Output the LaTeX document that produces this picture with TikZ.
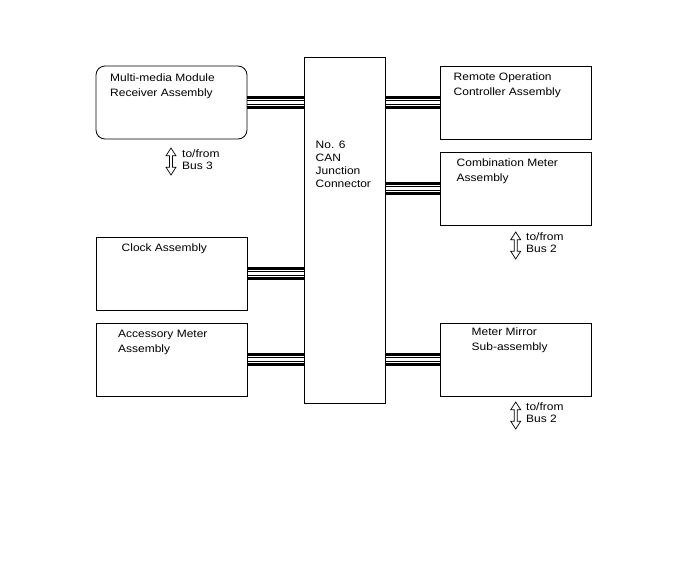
\documentclass[tikz,border=0pt]{standalone}
\usepackage{fontspec}
\setmainfont{Liberation Sans}[FakeStretch=1.12]
\usetikzlibrary{positioning, calc}

\tikzset{
  unit/.style={draw, line width=0.8pt, inner sep=0pt,
    minimum width=151pt, minimum height=73pt},
  unittext/.style={anchor=north west, inner sep=0pt, align=left,
    font=\fontsize{10.7}{14.8}\selectfont},
  jctext/.style={anchor=north west, inner sep=0pt, align=left,
    font=\fontsize{10.7}{13.2}\selectfont},
  bustext/.style={anchor=north west, inner sep=0pt, align=left,
    font=\fontsize{10.7}{11.8}\selectfont},
  busarrow/.pic={
    \draw[line width=0.7pt, line join=miter]
      (0,-13.5) -- (5,-5.7) -- (1.5,-5.7) -- (1.5,5.7) -- (5,5.7)
      -- (0,13.5) -- (-5,5.7) -- (-1.5,5.7) -- (-1.5,-5.7)
      -- (-5,-5.7) -- cycle;
  }
}

\begin{document}
\begin{tikzpicture}[x=1pt, y=-1pt]
  \useasboundingbox (0,0) rectangle (688,560);

  % Junction connector
  \node[draw, line width=0.8pt, inner sep=0pt,
    minimum width=81pt, minimum height=346pt] (jc) at (344.5,230) {};
  \node[jctext] (jclabel) at (315.5,140.5) {No. 6\\CAN\\Junction\\Connector};

  % Left units
  \node[unit, rounded corners=9pt] (mmm) at (171.5,102.5) {};
  \node[unit] (clock) at (171.5,273.5) {};
  \node[unit] (acc) at (171.5,359.5) {};
  \node[unittext] (mmmlabel) at (110,74) {Multi-media Module\\Receiver Assembly};
  \node[unittext] (clocklabel) at (121.5,244) {Clock Assembly};
  \node[unittext] (acclabel) at (118,330) {Accessory Meter\\Assembly};

  % Right units
  \node[unit] (rem) at (515.5,102.5) {};
  \node[unit] (comb) at (515.5,188.5) {};
  \node[unit] (mir) at (515.5,359.5) {};
  \node[unittext] (remlabel) at (453.5,73) {Remote Operation\\Controller Assembly};
  \node[unittext] (comblabel) at (456.5,158.5) {Combination Meter\\Assembly};
  \node[unittext] (mirlabel) at (471.5,328) {Meter Mirror\\Sub-assembly};

  % CAN bus lines
  \foreach \unitname in {mmm, clock, acc} {
    \foreach \dy/\lw in {-5.2/3pt, -1.6/0.9pt, 1.6/0.9pt, 5.2/3pt}
      \draw[line width=\lw] ($(\unitname.east)+(0,\dy)$)
        -- ($(\unitname.east -| jc.west)+(0,\dy)$);
  }
  \foreach \unitname in {rem, comb, mir} {
    \foreach \dy/\lw in {-5.2/3pt, -1.6/0.9pt, 1.6/0.9pt, 5.2/3pt}
      \draw[line width=\lw] ($(\unitname.west -| jc.east)+(0,\dy)$)
        -- ($(\unitname.west)+(0,\dy)$);
  }

  % to/from other buses
  \pic at (171,161.5) {busarrow};
  \node[bustext] (bus3) at (182,150) {to/from\\Bus 3};
  \pic at (515.7,245.5) {busarrow};
  \node[bustext] (bus2a) at (526,233) {to/from\\Bus 2};
  \pic at (515.7,415.5) {busarrow};
  \node[bustext] (bus2b) at (526,403) {to/from\\Bus 2};
\end{tikzpicture}
\end{document}
